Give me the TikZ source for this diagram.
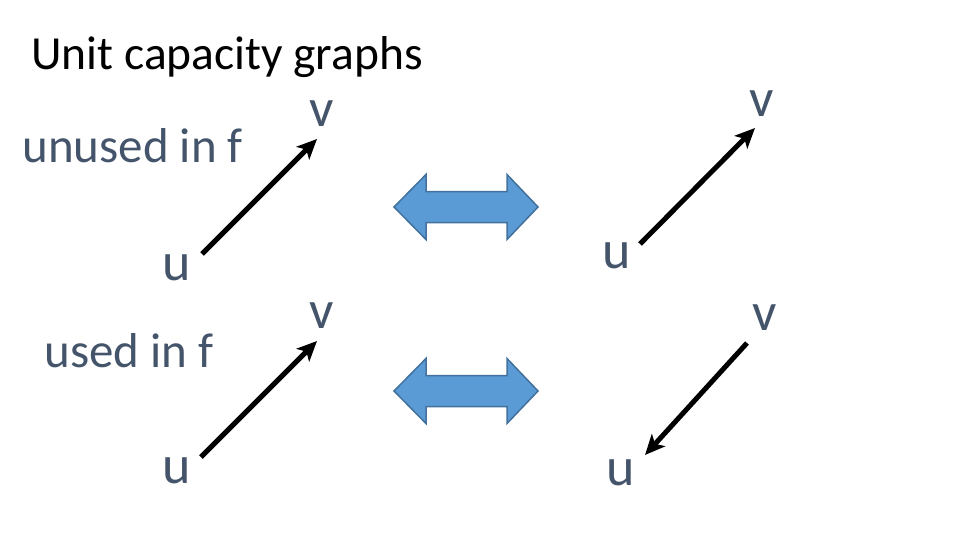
\documentclass[tikz,border=0pt]{standalone}
\usepackage{fontspec}
\setmainfont{Carlito}
\usetikzlibrary{arrows.meta,positioning}
\definecolor{slate}{HTML}{44546A}
\definecolor{swapfill}{HTML}{5B9BD5}
\definecolor{swapline}{HTML}{41719C}
\tikzset{
  every picture/.style={line width=0.7pt},
  sEdge/.style={line width=5pt, black,
                -{Stealth[length=20pt,width=18pt,inset=5pt]}},
  sEnd/.style={text=slate, inner sep=0pt,
               font=\fontsize{54}{60}\selectfont},
  sCase/.style={text=slate, inner sep=0pt, anchor=base west,
                font=\fontsize{49}{56}\selectfont},
  sTitle/.style={text=black, inner sep=0pt, anchor=base west,
                 font=\fontsize{47.5}{56}\selectfont},
  swaparrow/.pic={
    \draw[fill=swapfill, draw=swapline, line width=1.5pt, line join=miter]
      (-72,0) -- (-40,-32.5) -- (-40,-15.5) -- (41,-15.5) -- (41,-32.5)
      -- (72,0) -- (41,32.5) -- (41,15.5) -- (-40,15.5) -- (-40,32.5) -- cycle;
  },
}

\begin{document}
\begin{tikzpicture}[x=1pt,y=-1pt]
  \useasboundingbox (0,0) rectangle (960,540);
  \node[sTitle] (title) at (31,70) {Unit capacity graphs};
  \node[sCase] (unusedlbl) at (22,163) {unused in f};
  \node[sCase] (usedlbl) at (44,367) {used in f};
  % unused edge, before and after
  \node[sEnd] (u1) at (177,268) {u};
  \node[sEnd] (v1) at (322,114) {v};
  \node[sEnd] (u2) at (617,256) {u};
  \node[sEnd] (v2) at (762,104) {v};
  \coordinate (u1e) at (202,254);
  \coordinate (v1e) at (317,139);
  \coordinate (u2e) at (640,244);
  \coordinate (v2e) at (755,128);
  \draw[sEdge] (u1e) -- (v1e);
  \draw[sEdge] (u2e) -- (v2e);
  \pic at (466,207) {swaparrow};
  % used edge, before and after
  \node[sEnd] (u3) at (177,471) {u};
  \node[sEnd] (v3) at (322,316) {v};
  \node[sEnd] (u4) at (621,473) {u};
  \node[sEnd] (v4) at (765,318) {v};
  \coordinate (u3e) at (201,457);
  \coordinate (v3e) at (317,341);
  \coordinate (u4e) at (645,455);
  \coordinate (v4e) at (747,343);
  \draw[sEdge] (u3e) -- (v3e);
  \draw[sEdge] (v4e) -- (u4e);
  \pic at (466,391) {swaparrow};
\end{tikzpicture}
\end{document}
